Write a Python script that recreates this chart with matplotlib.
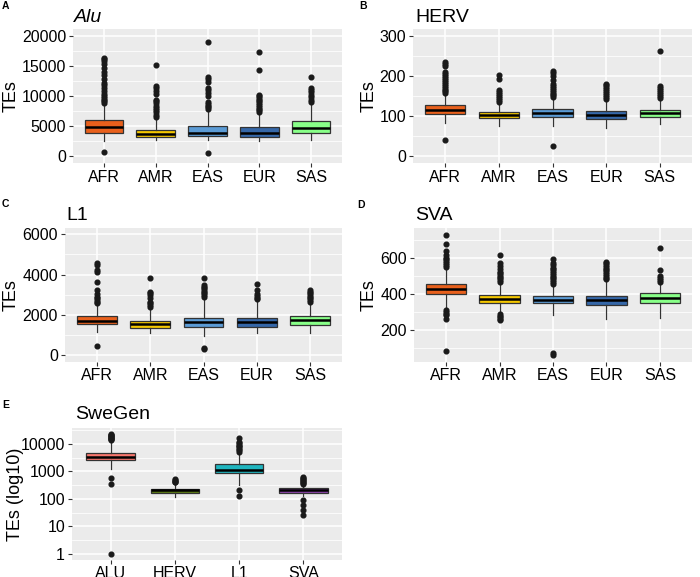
import matplotlib
matplotlib.use("Agg")
import matplotlib.pyplot as plt
from matplotlib.ticker import FixedLocator, NullFormatter
import numpy as np

plt.rcParams['font.family'] = ['Liberation Sans', 'DejaVu Sans']

pops = ["AFR", "AMR", "EAS", "EUR", "SAS"]
pop_colors = ["#E8601C", "#F5C800", "#5B9BD5", "#3567A8", "#88FF88"]

# ---- Alu ----
alu_q1 = [3800, 3200, 3300, 3200, 3900]
alu_med = [4800, 3700, 3800, 3800, 4700]
alu_q3 = [6000, 4300, 5000, 4800, 5800]
alu_lo = [2500, 2700, 2600, 2500, 2700]
alu_hi = [8600, 6000, 7400, 7000, 8600]
alu_out = [
    [700, 8900, 9100, 9400, 9700, 10000, 10300, 10800, 11300, 11800, 12200, 12800,
     13500, 14000, 14700, 15300, 15800, 16100, 16400],
    [6500, 6900, 7300, 7700, 8000, 8400, 8800, 9100, 9400, 10300, 10900, 11300, 11600, 15100],
    [500, 7800, 8100, 8400, 8700, 9000, 10000, 10500, 11000, 11400, 12300, 12800, 13200, 19000],
    [7300, 7600, 7900, 8200, 8500, 8800, 9100, 9400, 9700, 10000, 10200, 14300, 17400],
    [9000, 9400, 9800, 10200, 10600, 11000, 11400, 13100],
]

# ---- HERV ----
herv_q1 = [106, 96, 99, 94, 98]
herv_med = [116, 104, 108, 103, 107]
herv_q3 = [127, 110, 117, 113, 116]
herv_lo = [83, 75, 75, 70, 80]
herv_hi = [155, 132, 145, 140, 140]
herv_out = [
    [40, 158, 162, 166, 170, 175, 180, 185, 190, 195, 200, 205, 210, 225, 230, 234],
    [135, 140, 145, 150, 155, 160, 165, 192, 202],
    [25, 148, 152, 156, 160, 165, 170, 175, 180, 190, 200, 208, 213],
    [143, 148, 152, 157, 162, 168, 172, 177, 181],
    [145, 150, 155, 160, 165, 170, 175, 263],
]

# ---- L1 ----
l1_q1 = [1525, 1330, 1410, 1410, 1490]
l1_med = [1700, 1525, 1650, 1650, 1730]
l1_q3 = [1940, 1690, 1820, 1820, 1940]
l1_lo = [1160, 1080, 960, 1080, 1110]
l1_hi = [2490, 2320, 2820, 2730, 2570]
l1_out = [
    [440, 2570, 2650, 2740, 2820, 2900, 3030, 3230, 3650, 4130, 4230, 4460, 4590],
    [2400, 2490, 2570, 2650, 2820, 2980, 3060, 3150, 3810],
    [280, 330, 2900, 2990, 3070, 3150, 3230, 3320, 3400, 3480, 3810],
    [2780, 2860, 2940, 3030, 3230, 3520],
    [2650, 2740, 2820, 2900, 2990, 3070, 3150, 3230],
]

# ---- SVA ----
sva_q1 = [397, 349, 347, 338, 350]
sva_med = [426, 369, 366, 364, 376]
sva_q3 = [455, 391, 389, 389, 402]
sva_lo = [319, 288, 282, 262, 264]
sva_hi = [531, 457, 448, 476, 457]
sva_out = [
    [83, 258, 282, 290, 300, 310, 549, 560, 570, 580, 590, 600, 613, 636, 675, 726],
    [255, 262, 270, 278, 285, 465, 475, 485, 495, 505, 515, 522, 540, 555, 568, 617],
    [62, 74, 455, 465, 475, 485, 495, 505, 515, 525, 535, 545, 558, 568, 590],
    [480, 490, 500, 510, 520, 530, 540, 550, 560, 570, 577],
    [466, 478, 490, 498, 531, 656],
]

# ---- SweGen ----
te_types = ["ALU", "HERV", "L1", "SVA"]
te_colors = ["#F8766D", "#5E7F14", "#1FB5BF", "#8E44AD"]
swe_q1 = [2640, 158, 870, 158]
swe_med = [3480, 206, 1150, 206]
swe_q3 = [4730, 237, 1900, 245]
swe_lo = [1220, 115, 330, 133]
swe_hi = [13200, 380, 4600, 330]
swe_out = [
    [1, 355, 575, 13500, 14500, 15500, 16500, 17500, 18500, 19500, 20500, 21500, 23000],
    [400, 425, 450, 480, 510],
    [133, 206, 5300, 6000, 6800, 7600, 8500, 9500, 10500, 12000, 16000],
    [25, 39, 58, 95, 350, 380, 420, 460, 500, 550, 600, 650],
]

W, H = 700, 577
fig = plt.figure(figsize=(W / 100, H / 100), dpi=100)


def add_ax(x0, y0, x1, y1):
    return fig.add_axes([x0 / W, 1 - y1 / H, (x1 - x0) / W, (y1 - y0) / H])


def draw(ax, cats, colors, q1, med, q3, lo, hi, out, ylim, majors, minors, log=False, ylabel="TEs"):
    stats = []
    for i in range(len(cats)):
        stats.append(dict(q1=q1[i], med=med[i], q3=q3[i], whislo=lo[i], whishi=hi[i],
                          fliers=out[i], label=cats[i]))
    ax.set_facecolor("#EBEBEB")
    bp = ax.bxp(stats, positions=np.arange(1, len(cats) + 1), widths=0.75,
                patch_artist=True, showcaps=False,
                boxprops=dict(edgecolor="#333333", linewidth=0.9),
                whiskerprops=dict(color="#333333", linewidth=0.9),
                medianprops=dict(color="black", linewidth=1.8),
                flierprops=dict(marker="o", markerfacecolor="#1a1a1a",
                                markeredgecolor="#1a1a1a", markersize=3.4))
    for patch, c in zip(bp["boxes"], colors):
        patch.set_facecolor(c)
    for s in ax.spines.values():
        s.set_visible(False)
    if log:
        ax.set_yscale("log")
    ax.set_ylim(*ylim)
    ax.set_xlim(0.4, len(cats) + 0.6)
    ax.set_xticks(np.arange(1, len(cats) + 1))
    ax.set_xticklabels(cats)
    ax.yaxis.set_major_locator(FixedLocator(majors))
    ax.set_yticklabels([str(m) for m in majors])
    ax.yaxis.set_minor_locator(FixedLocator(minors))
    ax.yaxis.set_minor_formatter(NullFormatter())
    ax.xaxis.set_minor_locator(FixedLocator([]))
    ax.grid(True, which="major", color="white", linewidth=1.1, zorder=0)
    ax.grid(True, which="minor", axis="y", color="white", linewidth=0.55, zorder=0)
    ax.set_axisbelow(True)
    ax.tick_params(which="major", length=3, width=0.8, color="#333333",
                   labelsize=11.5, labelcolor="black", pad=2)
    ax.tick_params(axis="x", which="major", pad=1.5)
    ax.tick_params(which="minor", length=0)
    ax.set_ylabel(ylabel, fontsize=13, labelpad=4)


axA = add_ax(73, 29.3, 342, 163.3)
draw(axA, pops, pop_colors, alu_q1, alu_med, alu_q3, alu_lo, alu_hi, alu_out,
     (-1200, 21100), [0, 5000, 10000, 15000, 20000], [2500, 7500, 12500, 17500])
axB = add_ax(413, 29.3, 692, 163.3)
draw(axB, pops, pop_colors, herv_q1, herv_med, herv_q3, herv_lo, herv_hi, herv_out,
     (-18, 317), [0, 100, 200, 300], [50, 150, 250])
axC = add_ax(65, 228.3, 342, 361.7)
draw(axC, pops, pop_colors, l1_q1, l1_med, l1_q3, l1_lo, l1_hi, l1_out,
     (-330, 6300), [0, 2000, 4000, 6000], [1000, 3000, 5000])
axD = add_ax(414, 228.3, 692, 361.7)
draw(axD, pops, pop_colors, sva_q1, sva_med, sva_q3, sva_lo, sva_hi, sva_out,
     (23, 763), [200, 400, 600], [100, 300, 500, 700])
axE = add_ax(72, 428.3, 342, 560)
draw(axE, te_types, te_colors, swe_q1, swe_med, swe_q3, swe_lo, swe_hi, swe_out,
     (0.6, 37000), [1, 10, 100, 1000, 10000], [10 ** (k + 0.5) for k in range(0, 5)],
     log=True, ylabel="TEs (log10)")

# y-labels: right edge (text bottom) at fixed figure x positions
for ax, xr in [(axA, 20), (axB, 378), (axC, 20), (axD, 378), (axE, 24)]:
    pos = ax.get_position()
    ax.yaxis.set_label_coords((xr / W - pos.x0) / pos.width, 0.5)


def title(x, y, s, italic=False):
    fig.text(x / W, 1 - y / H, s, fontsize=14, va="baseline", ha="left",
             style="italic" if italic else "normal")


title(74, 22, "Alu", italic=True)
title(415, 22, "HERV")
title(66, 220, "L1")
title(415, 220, "SVA")
title(75, 419, "SweGen")

# panel letters
for x, y, s in [(2, 9, "A"), (359, 9, "B"), (2, 207, "C"), (357, 208, "D"), (2, 408, "E")]:
    fig.text(x / W, 1 - y / H, s, fontsize=7.5, fontweight="bold", va="baseline", ha="left")

fig.savefig("out.png", dpi=100)
